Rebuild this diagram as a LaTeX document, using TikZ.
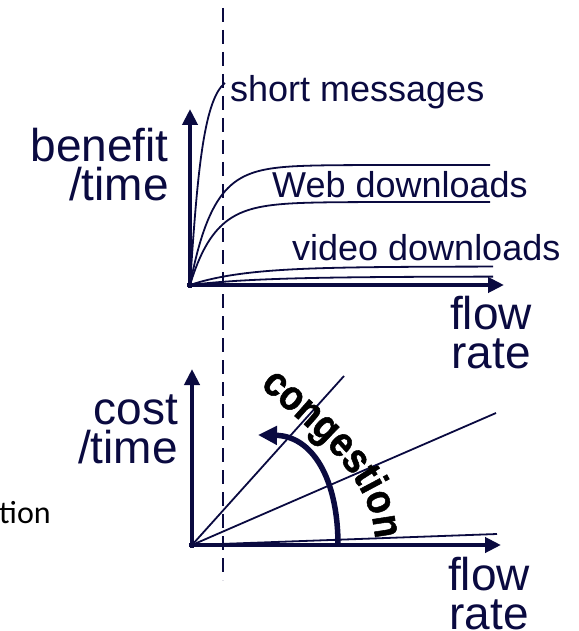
\documentclass[tikz,border=0pt]{standalone}
\usepackage{fontspec}
\setmainfont{Liberation Sans}
\newfontfamily\calib{Carlito}
\newfontfamily\congfont[FakeStretch=0.88,FakeBold=1.2]{Liberation Sans}
\usetikzlibrary{arrows.meta,decorations.text}
\definecolor{navy}{HTML}{0A0A40}
\begin{document}
\begin{tikzpicture}[x=1pt,y=-1pt,
  axis/.style={draw=navy,line width=4.5pt,-{Triangle[length=16pt,width=15pt]}},
  curve/.style={draw=navy,line width=1.8pt},
  bigtxt/.style={text=navy,font=\fontsize{46}{39}\selectfont,inner sep=0pt,align=right},
  midtxt/.style={text=navy,font=\fontsize{36}{40}\selectfont,inner sep=0pt},
  dashline/.style={draw=navy,line width=1.8pt,dash pattern=on 14pt off 8pt}]
\useasboundingbox (0,0) rectangle (578,631);
% named coordinates
\coordinate (o1) at (190,285);
\coordinate (o1x) at (187,285);
\coordinate (o1y) at (190,287.5);
\coordinate (x1) at (504,285);
\coordinate (y1) at (190,109);
\coordinate (o2) at (192,545);
\coordinate (o2x) at (189,545);
\coordinate (o2y) at (192,547.5);
\coordinate (x2) at (501,545);
\coordinate (y2) at (192,369);
\coordinate (dtop) at (223,8);
\coordinate (dbot) at (223,580);
% dashed vertical line
\draw[dashline] (dtop) -- (dbot);
% top curves
\draw[curve] (o1) .. controls (197,180) and (203,100) .. (225,83);
\draw[curve] plot[domain=0:300,samples=120] ({190+\x},{285-120*(1-exp(-\x/23))});
\draw[curve] plot[domain=0:300,samples=120] ({190+\x},{285-83*(1-exp(-\x/25))});
\draw[curve] plot[domain=0:303,samples=120] ({190+\x},{285-18.5*(1-exp(-\x/55))});
\draw[curve] plot[domain=0:303,samples=120] ({190+\x},{285-8.5*(1-exp(-\x/70))});
% top axes
\draw[axis] (o1y) -- (y1);
\draw[axis] (o1x) -- (x1);
% top labels
\node[midtxt,anchor=base west] (sm) at (230,101.5) {short messages};
\node[midtxt,anchor=base west] (wd) at (272,197) {Web downloads};
\node[midtxt,anchor=base west] (vd) at (292,260) {video downloads};
\node[bigtxt,anchor=base east] (bt) at (169,200) {benefit\\/time};
\node[bigtxt,anchor=base,align=center] (fr1) at (491,368) {flow\\rate};
% bottom lines
\coordinate (l1) at (344,376);
\coordinate (l2) at (496,413);
\coordinate (l3) at (497,534);
\draw[curve] (o2) -- (l1);
\draw[curve] (o2) -- (l2);
\draw[curve] (o2) -- (l3);
% bottom axes
\draw[axis] (o2y) -- (y2);
\draw[axis] (o2x) -- (x2);
% congestion arrow
\coordinate (ca) at (338,545);
\coordinate (cb) at (258,435);
\draw[draw=navy,line width=5.5pt,-{Triangle[length=19pt,width=18pt]}] (ca) .. controls (338,478) and (312,436) .. (cb);
\path[decorate,decoration={text along path,text align=left,
  text={|\congfont\fontsize{42}{42}\bfseries\selectfont|congestion}}]
  (260,386) .. controls (302,425) and (374,472) .. (375,542);
% bottom labels
\node[bigtxt,anchor=base east] (ct) at (178,463) {cost\\/time};
\node[bigtxt,anchor=base,align=center] (fr2) at (489,629) {flow\\rate};
\node[anchor=base west,inner sep=0pt,font=\calib\fontsize{32}{32}\selectfont] (tn) at (-1,523) {tion};
\end{tikzpicture}
\end{document}
